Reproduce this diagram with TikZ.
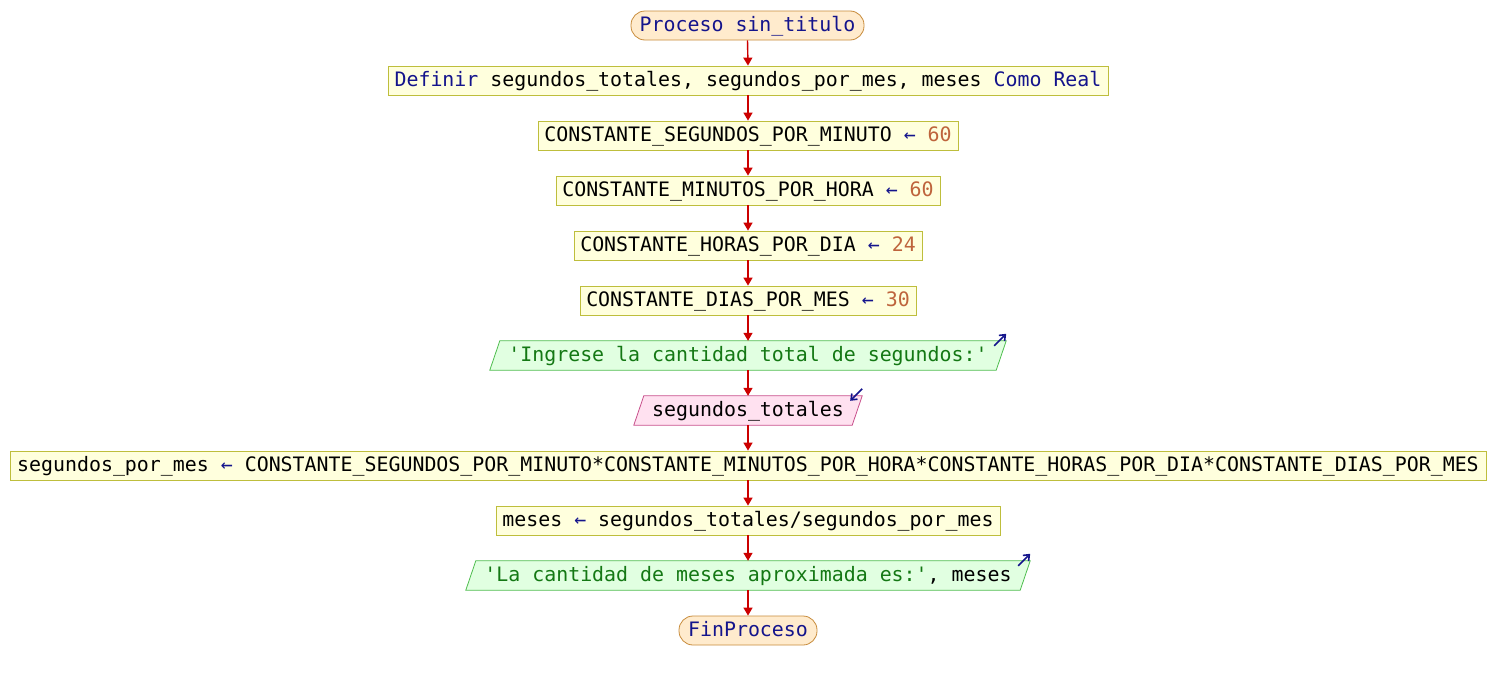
\documentclass[tikz,border=0pt]{standalone}
\usepackage{fontspec}
\setmonofont{DejaVu Sans Mono}
\usetikzlibrary{arrows.meta,backgrounds,calc}
\definecolor{procfill}{RGB}{255,255,221}
\definecolor{procline}{RGB}{190,190,60}
\definecolor{termfill}{RGB}{255,235,205}
\definecolor{termline}{RGB}{200,140,60}
\definecolor{outfill}{RGB}{225,255,225}
\definecolor{outline}{RGB}{80,190,80}
\definecolor{infill}{RGB}{255,225,240}
\definecolor{inline}{RGB}{200,80,140}
\definecolor{kw}{RGB}{20,20,140}
\definecolor{str}{RGB}{20,120,20}
\definecolor{num}{RGB}{190,100,60}
\definecolor{flow}{RGB}{204,0,0}
\newcommand{\kwd}[1]{\textcolor{kw}{#1}}
\newcommand{\strg}[1]{\textcolor{str}{#1}}
\newcommand{\numb}[1]{\textcolor{num}{#1}}
\newcommand{\asg}{\textcolor{kw}{←}}
\begin{document}
\begin{tikzpicture}[x=1pt,y=-1pt,
  base/.style={font=\ttfamily\fontsize{19.9pt}{22pt}\selectfont, inner sep=0pt, minimum height=29pt, text height=14pt, text depth=1.6pt},
  proc/.style={base, draw=procline, fill=procfill, line width=0.8pt},
  term/.style={base, draw=termline, fill=termfill, rounded corners=14pt, line width=0.8pt},
  para/.style={base},
  flowarrow/.style={draw=flow, line width=1.4pt, -{Triangle[width=9pt,length=8pt]}},
  icon/.style={draw=kw, line width=1.6pt, -{Straight Barb[width=8pt,length=5pt]}}
]
\useasboundingbox (0,0) rectangle (1496,680);

\node[term, minimum width=233pt] (start) at (747.5,25.5) {\kwd{Proceso sin\_titulo}};
\node[proc, minimum width=720pt] (def) at (748,80.5) {\kwd{Definir} segundos\_totales, segundos\_por\_mes, meses \kwd{Como Real}};
\node[proc, minimum width=420pt] (c1) at (748,135.5) {CONSTANTE\_SEGUNDOS\_POR\_MINUTO \asg{} \numb{60}};
\node[proc, minimum width=384pt] (c2) at (748,190.5) {CONSTANTE\_MINUTOS\_POR\_HORA \asg{} \numb{60}};
\node[proc, minimum width=348pt] (c3) at (748,245.5) {CONSTANTE\_HORAS\_POR\_DIA \asg{} \numb{24}};
\node[proc, minimum width=336pt] (c4) at (748,300.5) {CONSTANTE\_DIAS\_POR\_MES \asg{} \numb{30}};
\node[para, minimum width=516pt] (o1) at (748,355.5) {\strg{'Ingrese la cantidad total de segundos:'}};
\node[para, minimum width=228pt] (in) at (748,410.5) {segundos\_totales};
\node[proc, minimum width=1476pt] (big) at (748,465.5) {segundos\_por\_mes \asg{} CONSTANTE\_SEGUNDOS\_POR\_MINUTO*CONSTANTE\_MINUTOS\_POR\_HORA*CONSTANTE\_HORAS\_POR\_DIA*CONSTANTE\_DIAS\_POR\_MES};
\node[proc, minimum width=504pt] (m) at (748,520.5) {meses \asg{} segundos\_totales/segundos\_por\_mes};
\node[para, minimum width=564pt] (o2) at (748,575.5) {\strg{'La cantidad de meses aproximada es:'}, meses};
\node[term, minimum width=138pt] (end) at (748,630.5) {\kwd{FinProceso}};

\begin{scope}[on background layer]
  \fill[white] (0,0) rectangle (1496,680);
  \draw[draw=outline, fill=outfill, line width=0.8pt]
    ($(o1.north west)+(10,0)$) -- (o1.north east) -- ($(o1.south east)+(-10,0)$) -- (o1.south west) -- cycle;
  \draw[draw=inline, fill=infill, line width=0.8pt]
    ($(in.north west)+(10,0)$) -- (in.north east) -- ($(in.south east)+(-10,0)$) -- (in.south west) -- cycle;
  \draw[draw=outline, fill=outfill, line width=0.8pt]
    ($(o2.north west)+(10,0)$) -- (o2.north east) -- ($(o2.south east)+(-10,0)$) -- (o2.south west) -- cycle;
\end{scope}

% I/O icons
\coordinate (o1a) at ($(o1.north east)+(-12,5)$);
\coordinate (o1b) at ($(o1.north east)+(0,-7)$);
\draw[icon] (o1a) -- (o1b);
\coordinate (ina) at ($(in.north east)+(0,-7)$);
\coordinate (inb) at ($(in.north east)+(-12,5)$);
\draw[icon] (ina) -- (inb);
\coordinate (o2a) at ($(o2.north east)+(-12,5)$);
\coordinate (o2b) at ($(o2.north east)+(0,-7)$);
\draw[icon] (o2a) -- (o2b);

\draw[flowarrow] (start.south) -- (def.north);
\draw[flowarrow] (def.south) -- (c1.north);
\draw[flowarrow] (c1.south) -- (c2.north);
\draw[flowarrow] (c2.south) -- (c3.north);
\draw[flowarrow] (c3.south) -- (c4.north);
\draw[flowarrow] (c4.south) -- (o1.north);
\draw[flowarrow] (o1.south) -- (in.north);
\draw[flowarrow] (in.south) -- (big.north);
\draw[flowarrow] (big.south) -- (m.north);
\draw[flowarrow] (m.south) -- (o2.north);
\draw[flowarrow] (o2.south) -- (end.north);
\end{tikzpicture}
\end{document}
